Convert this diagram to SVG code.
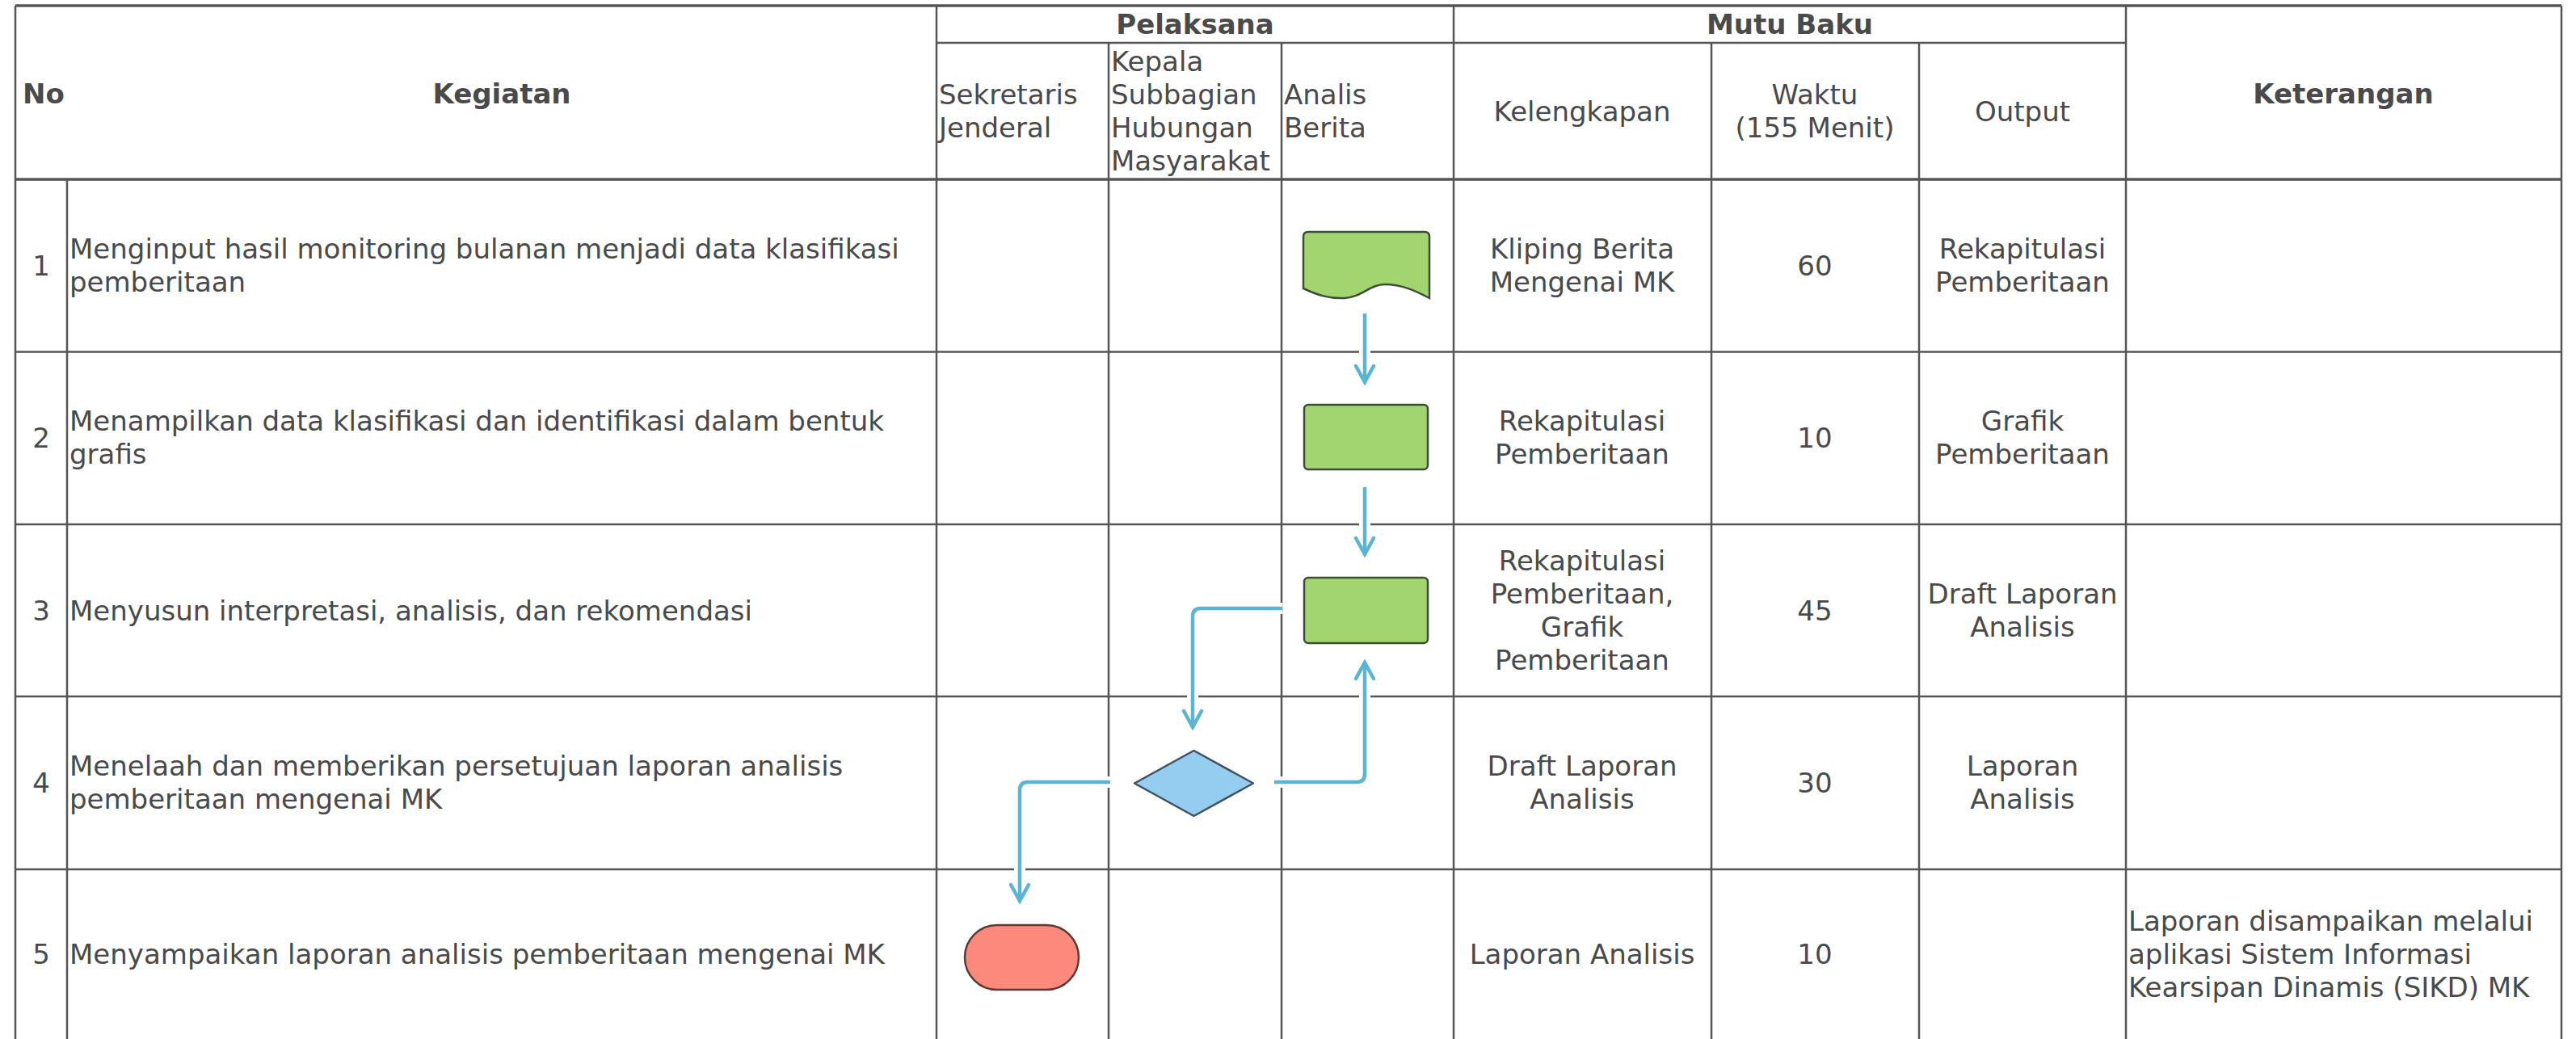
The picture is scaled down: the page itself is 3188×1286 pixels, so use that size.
<svg xmlns="http://www.w3.org/2000/svg" width="3188" height="1286" viewBox="0 0 3188 1286">
<defs>
<style>
.g{stroke:#555;stroke-width:2.5;fill:none}
.gb{stroke:#555;stroke-width:3.5;fill:none}
text{font-family:"DejaVu Sans","Liberation Sans",sans-serif;font-size:34px;fill:#4a4a4a}
.b{font-weight:bold}
.c{text-anchor:middle}
.halo{stroke:#fff;stroke-width:14;fill:none}
.con{stroke:#5ab4d2;stroke-width:4.5;fill:none;stroke-linejoin:round}
.proc{fill:#a2d570;stroke:#3e4d35;stroke-width:2.5}
</style>
<marker id="arr" markerUnits="userSpaceOnUse" viewBox="-26 -16 30 32" markerWidth="30" markerHeight="32" refX="0" refY="0" orient="auto">
<path d="M-20,-11 L0,0 L-20,11" fill="none" stroke="#5ab4d2" stroke-width="4.5" stroke-linejoin="miter" stroke-linecap="round"/>
</marker>
</defs>
<rect width="3188" height="1286" fill="#fff"/>
<g id="table">
<path class="gb" d="M19,7H3170M19,222H3170"/>
<path class="g" d="M1159,53H2631M19,435.5H3170M19,649H3170M19,862H3170M19,1076H3170"/>
<path class="g" d="M19,7V1290M83,222V1290M1159,7V1290M1372,53V1290M1586,53V1290M1799,7V1290M2118,53V1290M2375,53V1290M2631,7V1290M3170,7V1290"/>
<text class="b" x="28" y="128">No</text>
<text class="b c" x="621" y="128">Kegiatan</text>
<text class="b c" x="1479" y="42">Pelaksana</text>
<text class="b c" x="2215" y="42">Mutu Baku</text>
<text class="b c" x="2900" y="128">Keterangan</text>
<text x="1162" y="129">Sekretaris</text>
<text x="1162" y="170">Jenderal</text>
<text x="1375" y="88">Kepala</text>
<text x="1375" y="129">Subbagian</text>
<text x="1375" y="170">Hubungan</text>
<text x="1375" y="211">Masyarakat</text>
<text x="1589" y="129">Analis</text>
<text x="1589" y="170">Berita</text>
<text class="c" x="1958" y="150">Kelengkapan</text>
<text class="c" x="2246" y="129">Waktu</text>
<text class="c" x="2246" y="170">(155 Menit)</text>
<text class="c" x="2503" y="150">Output</text>

<text class="c" x="51" y="341">1</text>
<text x="86" y="320">Menginput hasil monitoring bulanan menjadi data klasifikasi</text>
<text x="86" y="361">pemberitaan</text>
<text class="c" x="51" y="554">2</text>
<text x="86" y="533">Menampilkan data klasifikasi dan identifikasi dalam bentuk</text>
<text x="86" y="574">grafis</text>
<text class="c" x="51" y="768">3</text>
<text x="86" y="768">Menyusun interpretasi, analisis, dan rekomendasi</text>
<text class="c" x="51" y="981">4</text>
<text x="86" y="960">Menelaah dan memberikan persetujuan laporan analisis</text>
<text x="86" y="1001">pemberitaan mengenai MK</text>
<text class="c" x="51" y="1193">5</text>
<text x="86" y="1193">Menyampaikan laporan analisis pemberitaan mengenai MK</text>

<text class="c" x="1958" y="320">Kliping Berita</text>
<text class="c" x="1958" y="361">Mengenai MK</text>
<text class="c" x="1958" y="533">Rekapitulasi</text>
<text class="c" x="1958" y="574">Pemberitaan</text>
<text class="c" x="1958" y="706">Rekapitulasi</text>
<text class="c" x="1958" y="747">Pemberitaan,</text>
<text class="c" x="1958" y="788">Grafik</text>
<text class="c" x="1958" y="829">Pemberitaan</text>
<text class="c" x="1958" y="960">Draft Laporan</text>
<text class="c" x="1958" y="1001">Analisis</text>
<text class="c" x="1958" y="1193">Laporan Analisis</text>

<text class="c" x="2246" y="341">60</text>
<text class="c" x="2246" y="554">10</text>
<text class="c" x="2246" y="768">45</text>
<text class="c" x="2246" y="981">30</text>
<text class="c" x="2246" y="1193">10</text>

<text class="c" x="2503" y="320">Rekapitulasi</text>
<text class="c" x="2503" y="361">Pemberitaan</text>
<text class="c" x="2503" y="533">Grafik</text>
<text class="c" x="2503" y="574">Pemberitaan</text>
<text class="c" x="2503" y="747">Draft Laporan</text>
<text class="c" x="2503" y="788">Analisis</text>
<text class="c" x="2503" y="960">Laporan</text>
<text class="c" x="2503" y="1001">Analisis</text>

<text x="2634" y="1152">Laporan disampaikan melalui</text>
<text x="2634" y="1193">aplikasi Sistem Informasi</text>
<text x="2634" y="1234">Kearsipan Dinamis (SIKD) MK</text>
</g>
<g id="connectors">
<path class="halo" d="M1689,388V473M1689,603V686M1587,753H1486Q1476,753 1476,763V900M1577,968H1679Q1689,968 1689,958V820M1374,968H1272Q1262,968 1262,978V1115"/>
<path class="con" marker-end="url(#arr)" d="M1689,388V473"/>
<path class="con" marker-end="url(#arr)" d="M1689,603V686"/>
<path class="con" marker-end="url(#arr)" d="M1587,753H1486Q1476,753 1476,763V900"/>
<path class="con" marker-end="url(#arr)" d="M1577,968H1679Q1689,968 1689,958V820"/>
<path class="con" marker-end="url(#arr)" d="M1374,968H1272Q1262,968 1262,978V1115"/>
</g>
<g id="n1-document">
<path class="proc" d="M1613,357V293Q1613,287 1619,287H1763Q1769,287 1769,293V369C1752,360 1735,352 1714,352C1695,352 1685,368 1664,369C1645,370 1630,365 1613,357Z"/>
</g>
<g id="n2-process">
<rect class="proc" x="1614" y="501" width="153" height="80" rx="5"/>
</g>
<g id="n3-process">
<rect class="proc" x="1614" y="715" width="153" height="81" rx="5"/>
</g>
<g id="n4-decision">
<path d="M1404,969.5L1477.5,929L1551,969.5L1477.5,1010Z" fill="#94cdf0" stroke="#3f5060" stroke-width="2.5" stroke-linejoin="round"/>
</g>
<g id="n5-terminal">
<rect x="1194" y="1145" width="141" height="80" rx="40" fill="#fb8a7c" stroke="#5b3b36" stroke-width="2.5"/>
</g>
</svg>
